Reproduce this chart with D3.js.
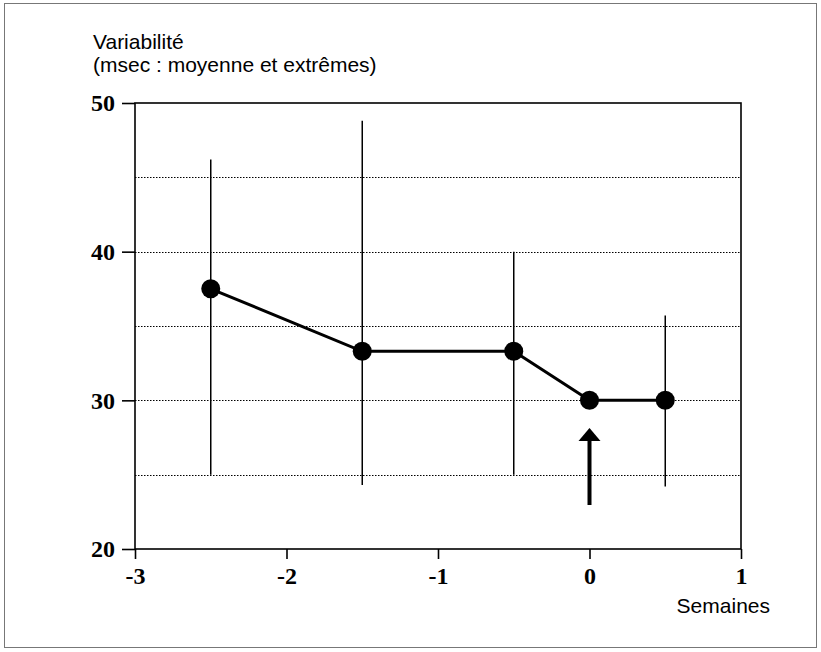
<!DOCTYPE html>
<html>
<head>
<meta charset="utf-8">
<script src="https://cdn.jsdelivr.net/npm/d3@7"></script>
<style>
  body { margin: 0; background: #fff; }
  svg { display: block; }
</style>
</head>
<body>
<svg id="chart" width="821" height="652"></svg>
<script>
// data
const weeks = [-2.5, -1.5, -0.5, 0, 0.5];
const means = [37.5, 33.3, 33.3, 30, 30];
const highs = [46.2, 48.8, 40, null, 35.7];
const lows = [25, 24.3, 25, null, 24.2];
const xTicks = [-3, -2, -1, 0, 1];
const yTicks = [20, 30, 40, 50];
const gridLines = [25, 30, 35, 40, 45];
const arrowWeek = 0;

const svg = d3.select('#chart');

// outer frame
svg.append('rect')
  .attr('x', 4.5).attr('y', 3.5)
  .attr('width', 812).attr('height', 644)
  .attr('fill', 'none').attr('stroke', '#777').attr('stroke-width', 1);

const x = d3.scaleLinear().domain([-3, 1]).range([135, 741]);
const y = d3.scaleLinear().domain([20, 50]).range([549, 103]);

// dotted grid
svg.selectAll('.grid').data(gridLines).enter().append('line')
  .attr('x1', x(-3)).attr('x2', x(1))
  .attr('y1', d => Math.round(y(d)) + 0.5).attr('y2', d => Math.round(y(d)) + 0.5)
  .attr('stroke', '#000').attr('stroke-width', 1)
  .attr('stroke-dasharray', '1.5,1.5');

// plot box
svg.append('rect')
  .attr('x', x(-3)).attr('y', y(50))
  .attr('width', x(1) - x(-3)).attr('height', y(20) - y(50))
  .attr('fill', 'none').attr('stroke', '#000').attr('stroke-width', 1.6);

// axes
const yAxis = svg.append('g')
  .attr('transform', `translate(${x(-3)},0)`)
  .call(d3.axisLeft(y).tickValues(yTicks).tickSize(13).tickPadding(7).tickFormat(d3.format('d')));
const xAxis = svg.append('g')
  .attr('transform', `translate(0,${y(20)})`)
  .call(d3.axisBottom(x).tickValues(xTicks).tickSize(10).tickPadding(8).tickFormat(d => d < 0 ? '-' + Math.abs(d) : d));
[yAxis, xAxis].forEach(g => {
  g.select('.domain').remove();
  g.selectAll('.tick line').attr('stroke', '#000').attr('stroke-width', 1.6);
  g.selectAll('.tick text')
    .attr('fill', '#000')
    .style('font-family', '"Liberation Serif", "DejaVu Serif", serif')
    .style('font-weight', 'bold')
    .style('font-size', '24px');
});

// range bars (extremes)
const pts = weeks.map((w, i) => ({ w: w, m: means[i], hi: highs[i], lo: lows[i] }));
svg.selectAll('.range').data(pts.filter(d => d.hi != null)).enter().append('line')
  .attr('x1', d => x(d.w)).attr('x2', d => x(d.w))
  .attr('y1', d => y(d.hi)).attr('y2', d => y(d.lo))
  .attr('stroke', '#000').attr('stroke-width', 1.5);

// mean line
const line = d3.line().x(d => x(d.w)).y(d => y(d.m));
svg.append('path').datum(pts)
  .attr('d', line)
  .attr('fill', 'none').attr('stroke', '#000').attr('stroke-width', 3);

svg.selectAll('.dot').data(pts).enter().append('circle')
  .attr('cx', d => x(d.w)).attr('cy', d => y(d.m))
  .attr('r', 9.5).attr('fill', '#000');

// arrow
const ax = x(arrowWeek);
svg.append('line')
  .attr('x1', ax).attr('x2', ax)
  .attr('y1', 505).attr('y2', 438)
  .attr('stroke', '#000').attr('stroke-width', 4);
svg.append('path')
  .attr('d', `M${ax},428 L${ax - 11},441 L${ax + 11},441 Z`)
  .attr('fill', '#000');

// titles
const sans = '"Liberation Sans", Arial, sans-serif';
svg.append('text').attr('x', 93).attr('y', 49)
  .style('font-family', sans).style('font-size', '21px').text('Variabilité');
svg.append('text').attr('x', 93).attr('y', 72)
  .style('font-family', sans).style('font-size', '21px').text('(msec : moyenne et extrêmes)');
svg.append('text').attr('x', 770).attr('y', 613).attr('text-anchor', 'end')
  .style('font-family', sans).style('font-size', '21px').text('Semaines');
</script>
</body>
</html>
